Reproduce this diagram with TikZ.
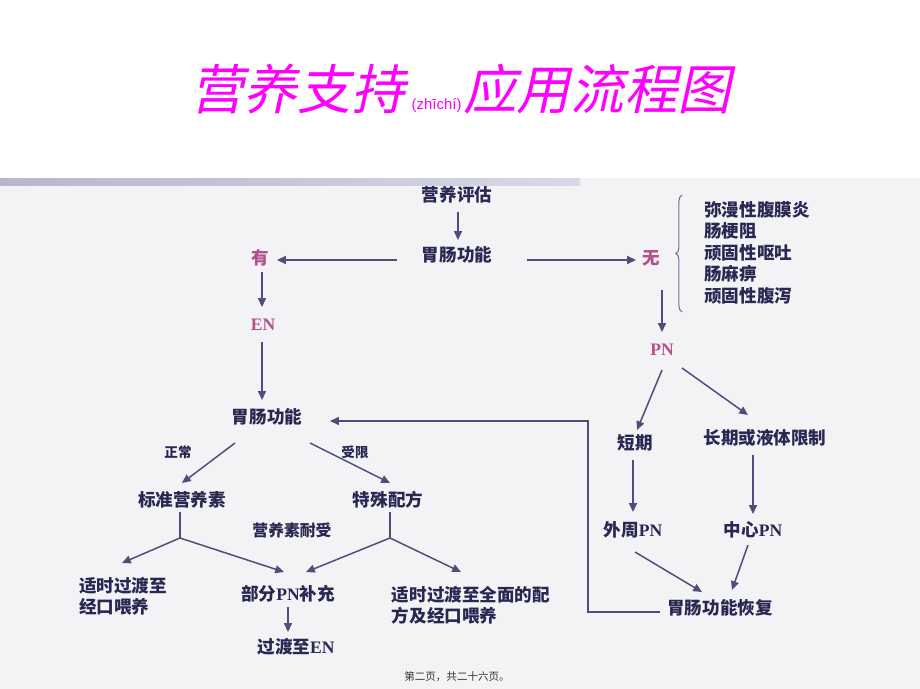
\documentclass[tikz,border=0pt]{standalone}
\usepackage{fontspec}
\usetikzlibrary{calc,arrows.meta,decorations.pathreplacing}
\newfontfamily\zh{Noto Sans CJK SC}
\newfontfamily\zhslant{Noto Sans CJK SC}[FakeSlant=0.22]
\newfontfamily\en{Liberation Serif}
\newfontfamily\py{Liberation Sans}
\definecolor{ink}{RGB}{40,40,82}
\definecolor{arrowc}{RGB}{78,78,122}
\definecolor{rose}{RGB}{180,80,140}
\definecolor{titlec}{RGB}{255,0,255}
\definecolor{paper}{RGB}{243,243,246}
\definecolor{barl}{RGB}{182,182,206}
\definecolor{barr}{RGB}{216,216,230}
\tikzset{
  txt/.style={inner sep=0pt, text=ink, font=\zh\bfseries\fontsize{10}{12}\selectfont},
  key/.style={txt, text=rose},
  small/.style={txt, font=\zh\bfseries\fontsize{7.7}{9}\selectfont},
  arr/.style={draw=arrowc, line width=0.85pt, -{Triangle[length=5pt,width=4.5pt]}},
  link/.style={draw=arrowc, line width=0.85pt},
}
\begin{document}
\begin{tikzpicture}[x=0.02cm,y=-0.02cm]
  \useasboundingbox (0,0) rectangle (920,689);
  % background and header bar
  \fill[white] (0,0) rectangle (920,178);
  \fill[paper] (0,178) rectangle (920,689);
  \shade[left color=barl, right color=barr] (0,179) rectangle (580,186);
  % title
  \node[anchor=base west, inner sep=0pt, text=titlec] (title) at (190,110)
    {{\zhslant\fontsize{30.5}{32}\selectfont 营养支持}\kern4pt{\py\fontsize{8.5}{10}\selectfont (zhīchí)}\kern1pt{\zhslant\fontsize{30.5}{32}\selectfont 应用流程图}};

  % top part
  \node[txt] (eval) at (457,195) {营养评估};
  \node[txt] (gcn1) at (457,255) {胃肠功能};
  \node[key] (you) at (260,258) {有};
  \node[key] (wu) at (651,258) {无};
  \draw[draw=arrowc!80, line width=0.6pt, decorate, decoration={brace, amplitude=3.5pt}] (682,312) -- (682,195);
  \foreach \t [count=\i] in {弥漫性腹膜炎,肠梗阻,顽固性呕吐,肠麻痹,顽固性腹泻}
    \node[txt, anchor=west] (cause\i) at (704,188+21.5*\i) {\t};

  % EN branch
  \node[key] (en) at (263,325) {\en\bfseries EN};
  \node[txt] (gcn2) at (267,417) {胃肠功能};
  \node[small] (norm) at (178,452) {正常};
  \node[small] (lim) at (355,452) {受限};
  \node[txt] (std) at (182,500) {标准营养素};
  \node[txt] (spec) at (388,500) {特殊配方};
  \node[txt, font=\zh\bfseries\fontsize{9}{11}\selectfont] (tol) at (292,530) {营养素耐受};
  \coordinate (jl) at (180,538);
  \coordinate (jr) at (390,538);
  \node[txt, align=left] (oral) at (123,596) {适时过渡至\\经口喂养};
  \node[txt] (ppn) at (288,594) {部分{\en\bfseries PN}补充};
  \node[txt] (toen) at (296,647) {过渡至{\en\bfseries EN}};
  \node[txt, align=left] (full) at (471,605) {适时过渡至全面的配\\方及经口喂养};

  % PN branch
  \node[key] (pn) at (662,350) {\en\bfseries PN};
  \node[txt] (short) at (635,443) {短期};
  \node[txt] (long) at (765,438) {长期或液体限制};
  \node[txt] (peri) at (633,530) {外周{\en\bfseries PN}};
  \node[txt] (cent) at (753,530) {中心{\en\bfseries PN}};
  \node[txt] (rec) at (720,608) {胃肠功能恢复};
  \coordinate (fb) at (588,612);

  % connectors
  \draw[arr] ($(eval)+(1,17)$) -- ($(gcn1)+(1,-15)$);
  \draw[arr] ($(gcn1)+(-60,5)$) -- ($(you)+(17,2)$);
  \draw[arr] ($(gcn1)+(70,5)$) -- ($(wu)+(-15,2)$);
  \draw[arr] ($(you)+(2,14)$) -- ($(en)+(-1,-18)$);
  \draw[arr] ($(en)+(-1,17)$) -- ($(gcn2)+(-5,-17)$);
  \draw[arr] ($(gcn2)+(-32,26)$) -- ($(std)+(0,-17)$);
  \draw[arr] ($(gcn2)+(43,26)$) -- ($(spec)+(2,-17)$);
  \draw[link] ($(std)+(-2,12)$) -- (jl);
  \draw[link] ($(spec)+(2,12)$) -- (jr);
  \draw[arr] (jl) -- ($(oral)+(-1,-33)$);
  \draw[arr] (jl) -- ($(ppn)+(-4,-22)$);
  \draw[arr] (jr) -- ($(ppn)+(18,-22)$);
  \draw[arr] (jr) -- ($(full)+(-10,-33)$);
  \draw[arr] ($(ppn)+(0,13)$) -- ($(toen)+(-8,-15)$);
  \draw[arr] ($(wu)+(11,32)$) -- ($(pn)+(0,-18)$);
  \draw[arr] ($(pn)+(0,20)$) -- ($(short)+(2,-13)$);
  \draw[arr] ($(pn)+(20,18)$) -- ($(long)+(-17,-23)$);
  \draw[arr] ($(short)+(-2,17)$) -- ($(peri)+(0,-18)$);
  \draw[arr] ($(long)+(-12,17)$) -- ($(cent)+(0,-16)$);
  \draw[arr] ($(peri)+(2,22)$) -- ($(rec)+(-18,-16)$);
  \draw[arr] ($(cent)+(-5,15)$) -- ($(rec)+(12,-18)$);
  \draw[arr] ($(rec)+(-60,4)$) -- (fb) |- ($(gcn2)+(63,4)$);

  % footer
  \node[txt, font=\zh\fontsize{6}{7}\selectfont, text=black!80] (foot) at (457,677) {第二页，共二十六页。};
\end{tikzpicture}
\end{document}
